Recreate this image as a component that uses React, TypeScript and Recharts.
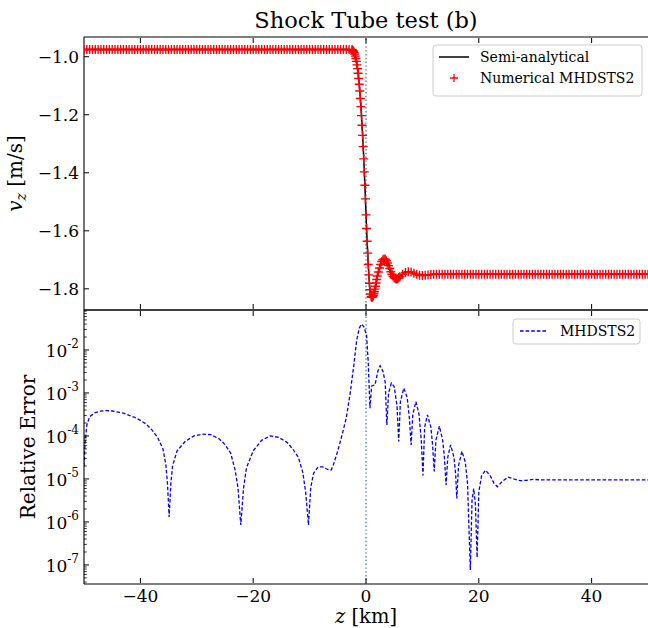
import { ComposedChart, Line, XAxis, YAxis, ReferenceLine } from "recharts";

const FONT = "'DejaVu Serif', serif";

// top panel: position along the tube [km]
const Z_TOP = [
  -50, -49.5, -49, -48.5, -48, -47.5, -47, -46.5, -46, -45.5,
  -45, -44.5, -44, -43.5, -43, -42.5, -42, -41.5, -41, -40.5,
  -40, -39.5, -39, -38.5, -38, -37.5, -37, -36.5, -36, -35.5,
  -35, -34.5, -34, -33.5, -33, -32.5, -32, -31.5, -31, -30.5,
  -30, -29.5, -29, -28.5, -28, -27.5, -27, -26.5, -26, -25.5,
  -25, -24.5, -24, -23.5, -23, -22.5, -22, -21.5, -21, -20.5,
  -20, -19.5, -19, -18.5, -18, -17.5, -17, -16.5, -16, -15.5,
  -15, -14.5, -14, -13.5, -13, -12.5, -12, -11.5, -11, -10.5,
  -10, -9.5, -9, -8.5, -8, -7.5, -7, -6.5, -6, -5.5,
  -5, -4.5, -4, -3.5, -3,
  -2.5, -2.4, -2.3, -2.2, -2.1, -2.0, -1.9, -1.8, -1.7, -1.6,
  -1.5, -1.4, -1.3, -1.2, -1.1, -1.0, -0.9, -0.8, -0.7, -0.6,
  -0.5, -0.4, -0.3, -0.2, -0.1, 0, 0.1, 0.2, 0.3, 0.4,
  0.5, 0.6, 0.7, 0.8, 0.9, 1.0, 1.1, 1.2, 1.3, 1.4,
  1.5, 1.6, 1.7, 1.8, 1.9, 2.0,
  2.2, 2.4, 2.6, 2.8, 3.0, 3.2, 3.4, 3.6, 3.8, 4.0,
  4.2, 4.4, 4.6, 4.8, 5.0, 5.2, 5.4, 5.6, 5.8, 6.0,
  6.5, 7, 7.5, 8, 8.5, 9, 9.5, 10, 10.5, 11, 11.5,
  12, 12.5, 13, 13.5, 14, 14.5, 15, 15.5, 16, 16.5,
  17, 17.5, 18, 18.5, 19, 19.5, 20, 20.5, 21, 21.5,
  22, 22.5, 23, 23.5, 24, 24.5, 25, 25.5, 26, 26.5,
  27, 27.5, 28, 28.5, 29, 29.5, 30, 30.5, 31, 31.5,
  32, 32.5, 33, 33.5, 34, 34.5, 35, 35.5, 36, 36.5,
  37, 37.5, 38, 38.5, 39, 39.5, 40, 40.5, 41, 41.5,
  42, 42.5, 43, 43.5, 44, 44.5, 45, 45.5, 46, 46.5,
  47, 47.5, 48, 48.5, 49, 49.5, 50,
];

// v_z [m/s], numerical MHDSTS2 (semi-analytical lies on top of it)
const V_TOP = [
  -0.975, -0.975, -0.975, -0.975, -0.975, -0.975, -0.975, -0.975, -0.975, -0.975,
  -0.975, -0.975, -0.975, -0.975, -0.975, -0.975, -0.975, -0.975, -0.975, -0.975,
  -0.975, -0.975, -0.975, -0.975, -0.975, -0.975, -0.975, -0.975, -0.975, -0.975,
  -0.975, -0.975, -0.975, -0.975, -0.975, -0.975, -0.975, -0.975, -0.975, -0.975,
  -0.975, -0.975, -0.975, -0.975, -0.975, -0.975, -0.975, -0.975, -0.975, -0.975,
  -0.975, -0.975, -0.975, -0.975, -0.975, -0.975, -0.975, -0.975, -0.975, -0.975,
  -0.975, -0.975, -0.975, -0.975, -0.975, -0.975, -0.975, -0.975, -0.975, -0.975,
  -0.975, -0.975, -0.975, -0.975, -0.975, -0.975, -0.975, -0.975, -0.975, -0.975,
  -0.975, -0.975, -0.975, -0.975, -0.975, -0.975, -0.975, -0.975, -0.975, -0.975,
  -0.975, -0.975, -0.975, -0.975, -0.975,
  -0.976, -0.977, -0.979, -0.982, -0.986, -0.991, -0.998, -1.006, -1.016, -1.028,
  -1.041, -1.057, -1.075, -1.095, -1.118, -1.144, -1.172, -1.203, -1.236, -1.271,
  -1.31, -1.352, -1.397, -1.443, -1.49, -1.545, -1.592, -1.636, -1.677, -1.716,
  -1.752, -1.781, -1.803, -1.818, -1.826, -1.829, -1.829, -1.827, -1.823, -1.817,
  -1.81, -1.801, -1.791, -1.78, -1.768, -1.756,
  -1.742, -1.728, -1.716, -1.706, -1.7, -1.697, -1.698, -1.703, -1.711, -1.72,
  -1.73, -1.741, -1.75, -1.757, -1.762, -1.765, -1.766, -1.765, -1.762, -1.758,
  -1.75, -1.744, -1.741, -1.742, -1.746, -1.75, -1.753, -1.754, -1.753, -1.752, -1.751,
  -1.75, -1.75, -1.75, -1.75, -1.75, -1.75, -1.75, -1.75, -1.75, -1.75,
  -1.75, -1.75, -1.75, -1.75, -1.75, -1.75, -1.75, -1.75, -1.75, -1.75,
  -1.75, -1.75, -1.75, -1.75, -1.75, -1.75, -1.75, -1.75, -1.75, -1.75,
  -1.75, -1.75, -1.75, -1.75, -1.75, -1.75, -1.75, -1.75, -1.75, -1.75,
  -1.75, -1.75, -1.75, -1.75, -1.75, -1.75, -1.75, -1.75, -1.75, -1.75,
  -1.75, -1.75, -1.75, -1.75, -1.75, -1.75, -1.75, -1.75, -1.75, -1.75,
  -1.75, -1.75, -1.75, -1.75, -1.75, -1.75, -1.75, -1.75, -1.75, -1.75,
  -1.75, -1.75, -1.75, -1.75, -1.75, -1.75, -1.75,
];

// bottom panel: relative error of MHDSTS2
const Z_ERR = [
  -50, -49.8, -49.5, -49, -48, -47, -46, -45, -44, -43,
  -42, -41, -40, -39, -38, -37, -36, -35.5, -35.2, -34.9,
  -34.6, -34.3, -33.5, -32, -30.5, -29, -27.5, -26, -25, -24,
  -23.2, -22.7, -22.2, -21.7, -21.2, -20, -18.5, -17, -15.5, -14,
  -13, -12, -11.2, -10.7, -10.2, -9.8, -9.3, -8.5, -7.7, -6.8,
  -6.2, -5.8, -5, -4.4, -3.5, -2.8, -2.2, -1.65, -1.2, -0.8,
  -0.4, 0.1, 0.4, 0.7, 1, 1.6, 2.1, 2.5, 3, 3.4,
  3.7, 4, 4.5, 5, 5.5, 5.8, 6.1, 6.7, 7.3, 7.7,
  8, 8.3, 8.85, 9.4, 9.8, 10.1, 10.4, 10.9, 11.5, 11.8,
  12.1, 12.4, 13, 13.6, 13.9, 14.2, 14.5, 15, 15.6, 15.9,
  16.1, 16.4, 17, 17.6, 18, 18.5, 18.8, 19.1, 19.4, 19.7,
  20, 20.5, 21.2, 22, 22.7, 23.3, 24.2, 25.2, 26.2, 27.3,
  28.5, 29.6, 31, 35, 40, 45, 50,
];

const ERR = [
  2.0e-5, 7.1e-5, 1.8e-4, 2.8e-4, 3.5e-4, 3.8e-4, 3.9e-4, 3.8e-4, 3.6e-4, 3.4e-4,
  3.0e-4, 2.7e-4, 2.3e-4, 1.9e-4, 1.4e-4, 9.5e-5, 5.0e-5, 2.2e-5, 7.9e-6, 1.3e-6,
  7.9e-6, 2.0e-5, 4.5e-5, 7.6e-5, 1.0e-4, 1.1e-4, 1.07e-4, 8.5e-5, 6.3e-5, 4.0e-5,
  1.6e-5, 6.3e-6, 8.5e-7, 6.3e-6, 1.8e-5, 4.5e-5, 7.9e-5, 1.0e-4, 9.3e-5, 7.1e-5,
  5.0e-5, 3.2e-5, 1.4e-5, 5.0e-6, 8.5e-7, 6.3e-6, 1.35e-5, 1.9e-5, 1.9e-5, 1.66e-5,
  1.6e-5, 2.1e-5, 4.5e-5, 8.9e-5, 2.6e-4, 1.0e-3, 4.0e-3, 1.7e-2, 3.2e-2, 4.0e-2,
  3.5e-2, 2.2e-2, 5.0e-3, 4.4e-4, 1.45e-3, 1.55e-3, 3.2e-3, 4.3e-3, 3.2e-3, 1.8e-3,
  1.8e-4, 1.0e-3, 1.7e-3, 1.4e-3, 5.0e-4, 7.4e-5, 6.3e-4, 1.3e-3, 7.9e-4, 2.5e-4,
  6.2e-5, 3.2e-4, 6.3e-4, 3.2e-4, 7.9e-5, 1.2e-5, 1.6e-4, 3.1e-4, 1.6e-4, 6.3e-5,
  1.5e-5, 7.9e-5, 1.7e-4, 7.9e-5, 3.2e-5, 7.2e-6, 3.2e-5, 6.2e-5, 3.2e-5, 1.26e-5,
  3.5e-6, 2.0e-5, 4.4e-5, 2.5e-5, 7.9e-6, 7.6e-8, 3.2e-6, 6.0e-6, 2.5e-6, 1.5e-7,
  5.0e-6, 1.2e-5, 1.6e-5, 1.2e-5, 7.9e-6, 6.6e-6, 8.9e-6, 1.1e-5, 1.0e-5, 9.1e-6,
  9.3e-6, 9.8e-6, 9.5e-6, 9.5e-6, 9.5e-6, 9.5e-6, 9.5e-6,
];

const X_TICKS = [-40, -20, 0, 20, 40];
const V_TICKS = [-1.8, -1.6, -1.4, -1.2, -1.0];
const ERR_DECADES = [1e-8, 1e-7, 1e-6, 1e-5, 1e-4, 1e-3, 1e-2];
const MINOR_FACTORS = [2, 3, 4, 5, 6, 7, 8, 9];

const X_DOMAIN = [-50, 50];
const V_DOMAIN = [-1.873, -0.932];
const ERR_DOMAIN = [3.6e-8, 8.5e-2];

const topRows = Z_TOP.map((z, i) => ({ z, v: V_TOP[i] }));
const errRows = Z_ERR.map((z, i) => ({ z, err: ERR[i] }));

const errTicks = ERR_DECADES.flatMap((d) => [d, ...MINOR_FACTORS.map((f) => f * d)]).filter(
  (t) => t >= ERR_DOMAIN[0] && t <= ERR_DOMAIN[1]
);

const isMajor = (v: number) => Math.abs(Math.log10(v) - Math.round(Math.log10(v))) < 1e-6;
const minus = (s: string) => s.replace("-", "\u2212");

const MAJOR = 5;
const MINOR = 2.8;

// ticks point into the axes, like matplotlib direction="in"
// (x axes get height 1, so the tick origin sits 1px off the spine)
const xTickBottom = (withLabel: boolean) => (p: any) => {
  const y0 = p.y - 1;
  return (
    <g key={`xb-${p.index}`}>
      <line x1={p.x} x2={p.x} y1={y0} y2={y0 - MAJOR} stroke="#000" strokeWidth={1} />
      {withLabel && (
        <text x={p.x} y={y0 + 19} textAnchor="middle" fontSize={17} fontFamily={FONT} fill="#000">
          {minus(String(p.payload.value))}
        </text>
      )}
    </g>
  );
};

const xTickTop = (p: any) => (
  <line key={`xt-${p.index}`} x1={p.x} x2={p.x} y1={p.y + 1} y2={p.y + 1 + MAJOR} stroke="#000" strokeWidth={1} />
);

const vTick = (p: any) => (
  <g key={`yv-${p.index}`}>
    <line x1={p.x} x2={p.x + MAJOR} y1={p.y} y2={p.y} stroke="#000" strokeWidth={1} />
    <text x={p.x - 5} y={p.y + 6} textAnchor="end" fontSize={17} fontFamily={FONT} fill="#000">
      {minus(p.payload.value.toFixed(1))}
    </text>
  </g>
);

const errTick = (p: any) => {
  const v = p.payload.value;
  const major = isMajor(v);
  return (
    <g key={`ye-${p.index}`}>
      <line x1={p.x} x2={p.x + (major ? MAJOR : MINOR)} y1={p.y} y2={p.y} stroke="#000" strokeWidth={major ? 1 : 0.8} />
      {major && (
        <text x={p.x - 5} y={p.y + 7} textAnchor="end" fontSize={17} fontFamily={FONT} fill="#000">
          <tspan>10</tspan>
          <tspan dy={-8.5} fontSize={12}>
            {`-${Math.abs(Math.round(Math.log10(v)))}`}
          </tspan>
        </text>
      )}
    </g>
  );
};

const plus = (p: any) => (
  <path
    key={`m-${p.index}`}
    d={`M${p.cx - 4.5},${p.cy}h9M${p.cx},${p.cy - 4.5}v9`}
    stroke="#ff0000"
    strokeWidth={1.4}
    fill="none"
  />
);

const axisLine = { stroke: "#000", strokeWidth: 1.1 };

export default function App() {
  return (
    <div style={{ position: "absolute", left: 0, top: 0, width: 648, height: 628, background: "#fff" }}>
      <div style={{ position: "absolute", left: 0, top: 0 }}>
        <ComposedChart width={648} height={312} data={topRows} margin={{ top: 36, right: 0, bottom: 1, left: 0 }}>
          <XAxis xAxisId="b" type="number" dataKey="z" domain={X_DOMAIN} ticks={X_TICKS} interval={0}
            allowDataOverflow height={1} tickSize={0} tickMargin={0} tickLine={false} axisLine={axisLine}
            tick={xTickBottom(false)} />
          <XAxis xAxisId="t" orientation="top" type="number" dataKey="z" domain={X_DOMAIN} ticks={X_TICKS}
            interval={0} allowDataOverflow height={1} tickSize={0} tickMargin={0} tickLine={false}
            axisLine={axisLine} tick={xTickTop} />
          <YAxis yAxisId="l" type="number" domain={V_DOMAIN} ticks={V_TICKS} interval={0} allowDataOverflow
            width={84} tickSize={0} tickMargin={0} tickLine={false} axisLine={axisLine} tick={vTick} />
          <ReferenceLine xAxisId="b" yAxisId="l" x={0} stroke="#1f77b4" strokeWidth={1.2} strokeDasharray="1.4 2.4" />
          <Line xAxisId="b" yAxisId="l" dataKey="v" type="linear" stroke="#000" strokeWidth={1.5}
            dot={false} activeDot={false} isAnimationActive={false} />
          <Line xAxisId="b" yAxisId="l" dataKey="v" type="linear" stroke="none" dot={plus}
            activeDot={false} isAnimationActive={false} />
        </ComposedChart>
      </div>
      <div style={{ position: "absolute", left: 0, top: 300 }}>
        <ComposedChart width={648} height={328} data={errRows} margin={{ top: 9, right: 0, bottom: 0, left: 0 }}>
          <XAxis xAxisId="b" type="number" dataKey="z" domain={X_DOMAIN} ticks={X_TICKS} interval={0}
            allowDataOverflow height={44} tickSize={0} tickMargin={0} tickLine={false} axisLine={axisLine}
            tick={xTickBottom(true)} />
          <XAxis xAxisId="t" orientation="top" type="number" dataKey="z" domain={X_DOMAIN} ticks={X_TICKS}
            interval={0} allowDataOverflow height={1} tickSize={0} tickMargin={0} tickLine={false}
            axisLine={axisLine} tick={xTickTop} />
          <YAxis yAxisId="l" type="number" scale="log" domain={ERR_DOMAIN} ticks={errTicks} interval={0}
            allowDataOverflow width={84} tickSize={0} tickMargin={0} tickLine={false} axisLine={axisLine}
            tick={errTick} />
          <ReferenceLine xAxisId="b" yAxisId="l" x={0} stroke="#1f77b4" strokeWidth={1.2} strokeDasharray="1.4 2.4" />
          <Line xAxisId="b" yAxisId="l" dataKey="err" type="linear" stroke="#0000ff" strokeWidth={1.3}
            strokeDasharray="3.6 2" dot={false} activeDot={false} isAnimationActive={false} />
        </ComposedChart>
      </div>
      <svg width={648} height={628} style={{ position: "absolute", left: 0, top: 0, pointerEvents: "none" }}
        fontFamily={FONT}>
        <text x={366} y={28} textAnchor="middle" fontSize={22.5} fill="#000">Shock Tube test (b)</text>
        <text transform="translate(22,173.5) rotate(-90)" textAnchor="middle" fontSize={20} fill="#000">
          <tspan fontStyle="italic">v</tspan>
          <tspan fontStyle="italic" fontSize={14} dy={4}>z</tspan>
          <tspan dy={-4}> [m/s]</tspan>
        </text>
        <text transform="translate(35,447) rotate(-90)" textAnchor="middle" fontSize={20} fill="#000">
          Relative Error
        </text>
        <text x={366} y={623} textAnchor="middle" fontSize={19.5} fill="#000">
          <tspan fontStyle="italic">z</tspan>
          <tspan> [km]</tspan>
        </text>
        <rect x={433} y={45} width={209} height={51} rx={3} fill="#fff" fillOpacity={0.8} stroke="#cccccc" />
        <line x1={439} x2={469} y1={57} y2={57} stroke="#000" strokeWidth={1.5} />
        <text x={480} y={62} fontSize={14} fill="#000">Semi-analytical</text>
        <path d="M450,78h8M454,74v8" stroke="#ff0000" strokeWidth={1.3} />
        <text x={480} y={83} fontSize={14} fill="#000">Numerical MHDSTS2</text>
        <rect x={513} y={319} width={127} height={25} rx={3} fill="#fff" fillOpacity={0.8} stroke="#cccccc" />
        <line x1={520} x2={548} y1={331} y2={331} stroke="#0000ff" strokeWidth={1.3} strokeDasharray="3.6 2" />
        <text x={560} y={336} fontSize={14} fill="#000">MHDSTS2</text>
      </svg>
    </div>
  );
}
